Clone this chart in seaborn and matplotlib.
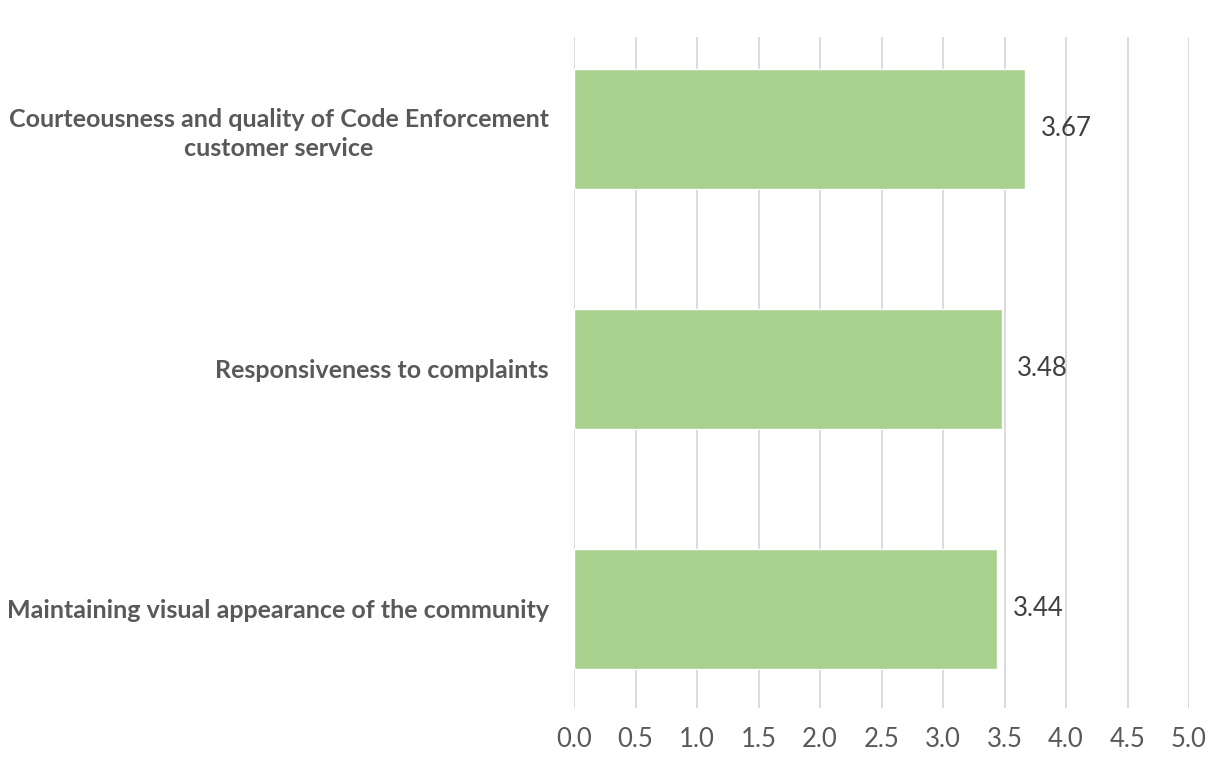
import matplotlib
matplotlib.use("Agg")
import matplotlib.pyplot as plt
import seaborn as sns
import pandas as pd

categories = ["Courteousness and quality of Code Enforcement\ncustomer service",
              "Responsiveness to complaints",
              "Maintaining visual appearance of the community"]
scores = [3.67, 3.48, 3.44]
x_ticks = [0.0, 0.5, 1.0, 1.5, 2.0, 2.5, 3.0, 3.5, 4.0, 4.5, 5.0]

df = pd.DataFrame({"item": categories, "score": scores})

sns.set_theme(style="white")
plt.rcParams["font.family"] = ["Lato", "DejaVu Sans"]

fig = plt.figure(figsize=(12.12, 7.76), dpi=100)
ax = fig.add_axes([574 / 1212, 1 - 708 / 776, (1189 - 574) / 1212, (708 - 37) / 776])

sns.barplot(data=df, x="score", y="item", orient="h", color="#A9D18E",
            saturation=1, width=0.5, ax=ax)

ax.set_xlim(0, 5)
ax.set_ylim(2.4125, -0.383)
ax.set_xticks(x_ticks)
ax.set_xticklabels([f"{t:.1f}" for t in x_ticks])
ax.xaxis.grid(True, color="#D9D9D9", linewidth=1.3)
ax.set_axisbelow(True)
for s in ax.spines.values():
    s.set_visible(False)
ax.set_xlabel("")
ax.set_ylabel("")
ax.tick_params(axis="x", length=0, pad=14, labelsize=18.5, labelcolor="#595959")
ax.tick_params(axis="y", length=0, pad=18, labelsize=18, labelcolor="#595959")
for lab in ax.get_yticklabels():
    lab.set_fontweight("bold")
    lab.set_multialignment("center")
    lab.set_linespacing(1.3)

for c in ax.containers:
    ax.bar_label(c, labels=[f"{v:.2f}" for v in scores], padding=11,
                 fontsize=18.5, color="#404040")

fig.savefig("out.png", dpi=100)
